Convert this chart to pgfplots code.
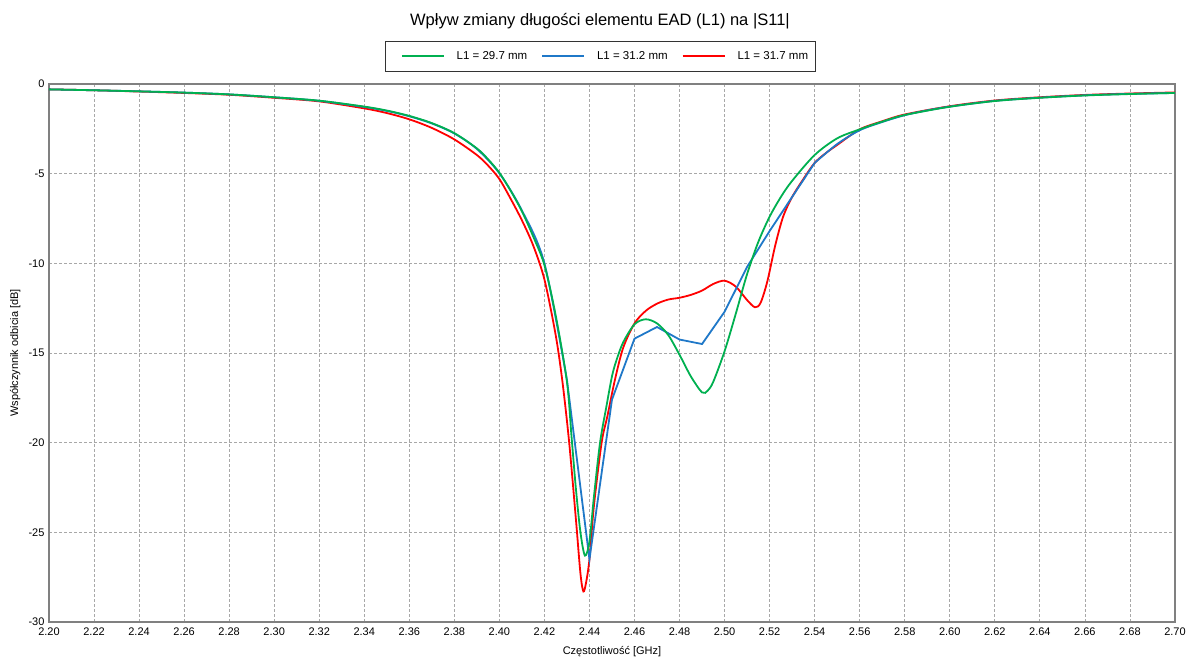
\documentclass[border=0pt]{standalone}
\usepackage{fontspec}
\setmainfont{Liberation Sans}
\usepackage{pgfplots}
\pgfplotsset{compat=1.18}
\definecolor{s11green}{HTML}{00B050}
\definecolor{s11blue}{HTML}{1F78C8}
\definecolor{s11red}{HTML}{FF0000}
\definecolor{gridgray}{HTML}{A8A8A8}
\definecolor{framegray}{HTML}{808080}

\begin{document}
\begin{tikzpicture}
\useasboundingbox (0pt,0pt) rectangle (1192pt,660pt);
\begin{axis}[
    at={(49pt,38pt)}, anchor=south west,
    scale only axis, width=1126pt, height=538pt,
    xmin=2.2, xmax=2.7, ymin=-30, ymax=0,
    xtick distance=0.02, ytick distance=5,
    major tick length=0pt,
    /pgf/number format/assume math mode=true,
    tick label style={font=\fontsize{11}{13}\selectfont},
    xticklabel style={yshift=-2pt, /pgf/number format/.cd, fixed, fixed zerofill, precision=2},
    yticklabel style={xshift=-1pt, /pgf/number format/.cd, fixed, precision=0},
    grid=major,
    grid style={gridgray, line width=0.7pt, dash pattern=on 3pt off 2pt},
    axis line style={framegray, line width=1.2pt},
    title={Wpływ zmiany długości elementu EAD (L1) na |S11|},
    title style={at={(axis description cs:0.4893,1.0985)}, anchor=base, font=\fontsize{16.5}{19}\selectfont},
    xlabel={Częstotliwość [GHz]},
    ylabel={Współczynnik odbicia [dB]},
    label style={font=\fontsize{11}{13}\selectfont},
    xlabel style={at={(axis description cs:0.5,-0.0613)}, anchor=base},
    ylabel style={at={(axis description cs:-0.0275,0.5)}, anchor=base},
    legend columns=3,
    reverse legend,
    legend style={at={(0.4898,1.0223)}, anchor=south, draw=black!80, line width=0.8pt, fill=white,
        inner xsep=5pt, inner ysep=8.5pt, font=\fontsize{11.5}{13}\selectfont,
        /tikz/every odd column/.append style={column sep=10pt},
        /tikz/every even column/.append style={column sep=2pt}},
    legend image code/.code={\path (0pt,0pt); \draw[#1, line width=1.8pt] (10pt,0pt) -- (52pt,0pt);},
]
% L1 = 31.7 mm
\addplot[s11red, line width=1.8pt, smooth, tension=0.5] coordinates {
(2.20,-0.30) (2.22,-0.35) (2.24,-0.42) (2.26,-0.50) (2.28,-0.60) (2.30,-0.77)
(2.32,-0.97) (2.34,-1.36) (2.35,-1.62) (2.36,-1.97) (2.37,-2.45) (2.38,-3.09)
(2.39,-3.96) (2.395,-4.55) (2.40,-5.30) (2.405,-6.40) (2.41,-7.60) (2.415,-9.00)
(2.42,-10.9) (2.425,-14.0) (2.428,-16.6) (2.431,-20.0)
(2.434,-24.3) (2.436,-27.3) (2.4373,-28.3) (2.4385,-27.8) (2.440,-26.5) (2.442,-23.5)
(2.4454,-20.0) (2.448,-18.5) (2.4513,-16.5) (2.455,-14.7) (2.46,-13.35) (2.465,-12.65)
(2.47,-12.25) (2.475,-12.02) (2.48,-11.92) (2.485,-11.76) (2.49,-11.52) (2.495,-11.15)
(2.50,-10.97) (2.505,-11.30) (2.51,-12.05) (2.5135,-12.45) (2.516,-12.2) (2.519,-11.0)
(2.5225,-9.0) (2.526,-7.4) (2.53,-6.3) (2.535,-5.3) (2.54,-4.4) (2.545,-3.85)
(2.55,-3.4) (2.56,-2.53) (2.57,-2.08) (2.58,-1.70) (2.60,-1.24) (2.62,-0.92)
(2.64,-0.74) (2.66,-0.61) (2.68,-0.53) (2.70,-0.47)
};
\addlegendentry{L1 = 31.7 mm}
% L1 = 31.2 mm
\addplot[s11blue, line width=1.8pt] coordinates {
(2.43,-16.5) (2.44,-26.5) (2.45,-17.6) (2.46,-14.2) (2.47,-13.55) (2.48,-14.25)
(2.49,-14.5) (2.50,-12.7) (2.51,-10.2) (2.52,-8.2) (2.53,-6.3) (2.54,-4.4)
};
\addlegendentry{L1 = 31.2 mm}
\addplot[s11blue, line width=1.8pt, smooth, tension=0.5, forget plot] coordinates {
(2.20,-0.30) (2.22,-0.35) (2.24,-0.41) (2.26,-0.48) (2.28,-0.58) (2.30,-0.74)
(2.32,-0.94) (2.34,-1.28) (2.35,-1.50) (2.36,-1.80) (2.37,-2.20) (2.38,-2.76)
(2.39,-3.62) (2.40,-4.98) (2.41,-7.05) (2.42,-10.0) (2.43,-16.5)
};
\addplot[s11blue, line width=1.8pt, smooth, tension=0.5, forget plot] coordinates {
(2.54,-4.4) (2.55,-3.35) (2.56,-2.58) (2.57,-2.12) (2.58,-1.74) (2.59,-1.47)
(2.60,-1.26) (2.62,-0.94) (2.64,-0.76) (2.66,-0.63) (2.68,-0.55) (2.70,-0.50)
};
% L1 = 29.7 mm
\addplot[s11green, line width=1.8pt, smooth, tension=0.5] coordinates {
(2.20,-0.30) (2.22,-0.35) (2.24,-0.41) (2.26,-0.48) (2.28,-0.58) (2.30,-0.74)
(2.32,-0.93) (2.34,-1.26) (2.35,-1.48) (2.36,-1.78) (2.37,-2.18) (2.38,-2.74)
(2.39,-3.59) (2.395,-4.20) (2.40,-4.95) (2.405,-5.95) (2.41,-7.10) (2.415,-8.50)
(2.42,-10.1) (2.425,-12.9) (2.430,-16.6) (2.432,-19.6) (2.434,-22.6)
(2.436,-25.0) (2.438,-26.3) (2.440,-25.5) (2.442,-23.0) (2.4447,-20.0) (2.4475,-18.0)
(2.45,-16.3) (2.452,-15.4) (2.455,-14.4) (2.46,-13.4) (2.465,-13.12) (2.47,-13.35)
(2.475,-14.0) (2.48,-15.1) (2.485,-16.3) (2.49,-17.2) (2.4925,-17.1) (2.495,-16.6)
(2.50,-14.9) (2.505,-12.8) (2.51,-10.6) (2.515,-8.8) (2.52,-7.4) (2.525,-6.3)
(2.53,-5.4) (2.54,-3.96) (2.55,-3.03) (2.56,-2.53) (2.57,-2.10) (2.58,-1.73)
(2.60,-1.27) (2.62,-0.95) (2.64,-0.77) (2.66,-0.64) (2.68,-0.56) (2.70,-0.50)
};
\addlegendentry{L1 = 29.7 mm}
\end{axis}
\end{tikzpicture}
\end{document}
